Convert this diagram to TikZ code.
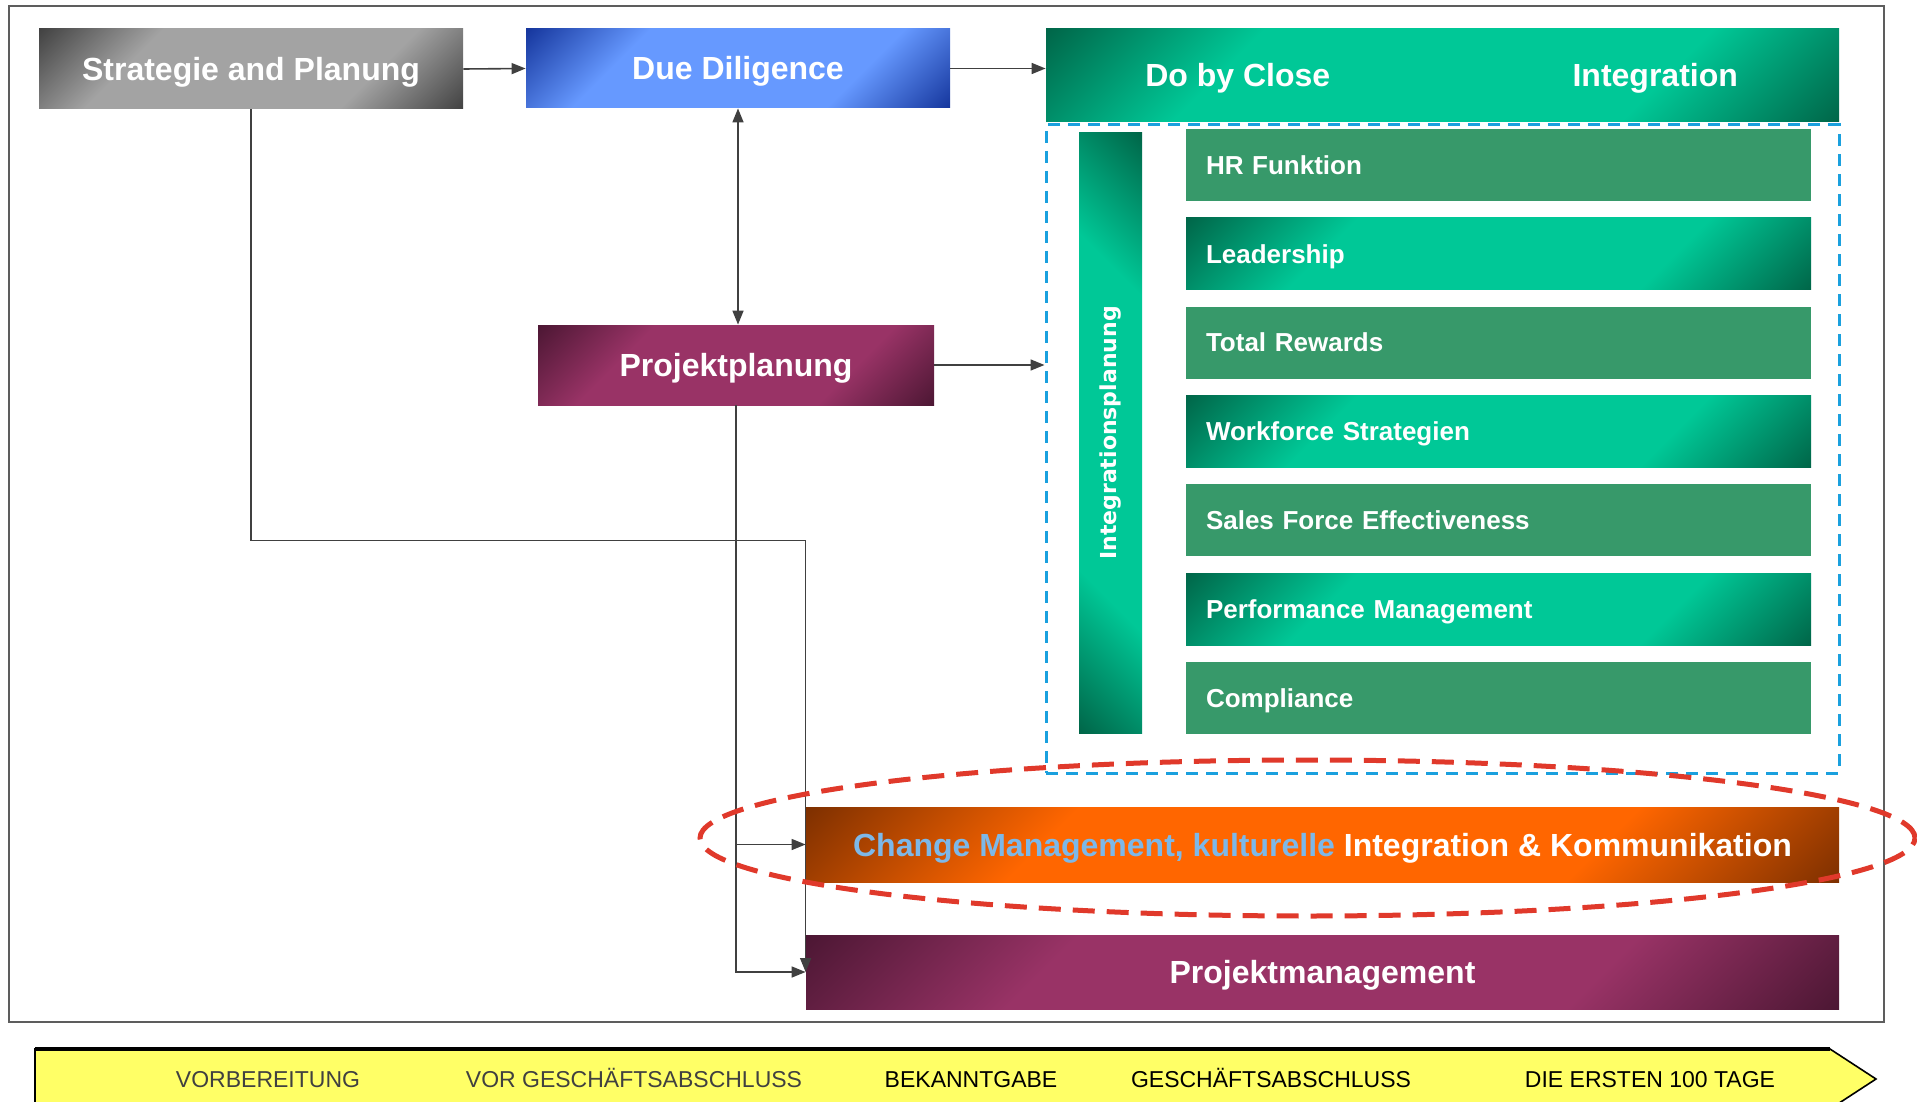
\documentclass[tikz,border=0pt]{standalone}
\usepackage{fontspec}
\setmainfont{Liberation Sans}
\newfontfamily\dejavu{DejaVu Sans}
\usetikzlibrary{arrows.meta,positioning,calc}
\definecolor{linie}{HTML}{404040}
\definecolor{graudunkel}{HTML}{3F3F3F}
\definecolor{grauhell}{HTML}{A3A3A3}
\definecolor{blaudunkel}{HTML}{13339A}
\definecolor{blauhell}{HTML}{6699FF}
\definecolor{gruendunkel}{HTML}{006346}
\definecolor{gruenhell}{HTML}{00C897}
\definecolor{gruenflach}{HTML}{37996A}
\definecolor{liladunkel}{HTML}{4A1632}
\definecolor{lilahell}{HTML}{993366}
\definecolor{orangedunkel}{HTML}{7A2E00}
\definecolor{orangehell}{HTML}{FF6600}
\definecolor{textblau}{HTML}{7DB8E8}
\definecolor{rahmenblau}{HTML}{1AA0DE}
\definecolor{markrot}{HTML}{E0392B}
\definecolor{zeitgelb}{HTML}{FFFF66}
\newcommand\glanz[3]{\pgfdeclarehorizontalshading{#1}{100bp}{color(0bp)=(#2); color(14bp)=(#2); color(32bp)=(#3); color(68bp)=(#3); color(86bp)=(#2); color(100bp)=(#2)}}
\glanz{grauglanz}{graudunkel}{grauhell}
\glanz{blauglanz}{blaudunkel}{blauhell}
\glanz{gruenglanz}{gruendunkel}{gruenhell}
\glanz{lilaglanz}{liladunkel}{lilahell}
\glanz{orangeglanz}{orangedunkel}{orangehell}
\tikzset{
  kasten/.style={rectangle, inner sep=0pt, shade, shading=#1, shading angle=-45, text=white,
                 text height=11.5pt, text depth=0pt, font=\bfseries\fontsize{16}{19}\selectfont},
  breit/.style={kasten=#1, minimum width=516.5pt},
  kopf/.style={text=white, text height=11.5pt, text depth=0pt, font=\bfseries\fontsize{16}{19}\selectfont},
  zeilebasis/.style={rectangle, inner sep=0pt, inner xsep=10pt, minimum height=36pt, text width=292.5pt,
                     align=left, text=white, text height=9.3pt, text depth=0pt,
                     font=\bfseries\fontsize{13}{15}\selectfont},
  zeile/.style={zeilebasis, fill=gruenflach},
  zeileglanz/.style={zeilebasis, shade, shading=gruenglanz, shading angle=-45},
  phase/.style={font=\fontsize{11.5}{13}\selectfont, text height=8.2pt, text depth=0pt, text=#1},
  pfeil/.style={-{Triangle[length=7pt,width=5.5pt]}, line width=0.8pt, draw=linie},
  doppelpfeil/.style={{Triangle[length=7pt,width=5.5pt]}-{Triangle[length=7pt,width=5.5pt]}, line width=0.8pt, draw=linie},
}
\begin{document}
\begin{tikzpicture}[x=0.5pt, y=-0.5pt, node distance=8pt]
  \useasboundingbox (0,0) rectangle (1917,1102);
  \draw[line width=1.2pt, draw=linie!85] (9,6) rectangle (1884,1022);

  \node[kasten=grauglanz, minimum width=212pt, minimum height=40pt] (strat) at (251,69) {Strategie and Planung};
  \node[kasten=blauglanz, minimum width=212pt, minimum height=39.5pt] (dd) at (738,68.5) {Due Diligence};
  \node[kasten=gruenglanz, minimum width=396.5pt, minimum height=46.5pt] (close) at (1442.5,75.5) {};
  \node[kopf] (closetxt) at ($(close.west)!0.242!(close.east)$) {Do by Close};
  \node[kopf] (integtxt) at ($(close.west)!0.768!(close.east)$) {Integration};
  \node[kasten=lilaglanz, minimum width=198pt, minimum height=40pt] (pp) at (736,365) {Projektplanung};

  \node[draw=rahmenblau, line width=1.5pt, dash pattern=on 6pt off 4pt, minimum width=396.5pt,
        minimum height=324pt, inner sep=0pt] (bereich) at (1442.5,449) {};
  \node[rectangle, shade, shading=gruenglanz, shading angle=45, minimum width=31.5pt,
        minimum height=300pt, inner sep=0pt] (iplan) at (1110.5,433) {};
  \node[rotate=90, text=white, font=\dejavu\bfseries\fontsize{11}{13}\selectfont] (iplantxt) at (iplan) {Integrationsplanung};

  \node[zeile] (hr) at (1498.5,165) {HR Funktion};
  \node[zeileglanz, below=of hr] (lead) {Leadership};
  \node[zeile, below=of lead] (rewards) {Total Rewards};
  \node[zeileglanz, below=of rewards] (workforce) {Workforce Strategien};
  \node[zeile, below=of workforce] (sales) {Sales Force Effectiveness};
  \node[zeileglanz, below=of sales] (perf) {Performance Management};
  \node[zeile, below=of perf] (compl) {Compliance};

  \node[breit=orangeglanz, minimum height=37.5pt] (cm) at (1322.5,844.5)
    {\textcolor{textblau}{Change Management, kulturelle} Integration \& Kommunikation};
  \node[breit=lilaglanz, minimum height=37pt] (pm) at (1322.5,972) {Projektmanagement};

  \draw[pfeil] (strat.east) -- (dd.west);
  \draw[pfeil] (dd.east) -- (dd.east -| close.west);
  \draw[doppelpfeil] (dd.south) -- (dd.south |- pp.north);
  \draw[pfeil] (pp.east) -- (pp.east -| bereich.west);
  \draw[pfeil] (strat.south) -- ++(0,431) -| (pm.west);
  \draw[pfeil] (pp.south) |- (pm.west);
  \draw[pfeil] (pp.south |- cm.west) -- (cm.west);

  \draw[markrot, line width=2.5pt, dash pattern=on 11pt off 6pt]
    (1307.5,838) ellipse [x radius=303.75pt, y radius=39pt];

  \draw[fill=zeitgelb, draw=black, line width=0.8pt]
    (35,1049) -- (1830,1049) -- (1876,1079) -- (1830,1109) -- (35,1109) -- cycle;
  \draw[line width=2pt] (35,1049) -- (1830,1049);
  \node[phase=linie] (vorb) at (268,1079) {VORBEREITUNG};
  \node[phase=linie] (vorgesch) at (634,1079) {VOR GESCHÄFTSABSCHLUSS};
  \node[phase=black] (bekannt) at (971,1079) {BEKANNTGABE};
  \node[phase=black] (gesch) at (1271,1079) {GESCHÄFTSABSCHLUSS};
  \node[phase=black] (tage) at (1650,1079) {DIE ERSTEN 100 TAGE};
\end{tikzpicture}
\end{document}
